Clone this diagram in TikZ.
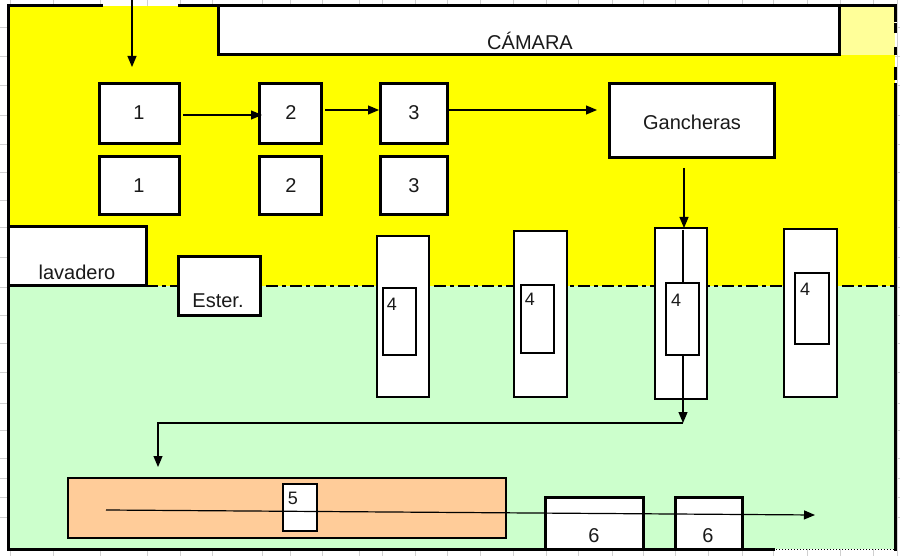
\documentclass[tikz,border=0pt]{standalone}
\usepackage{fontspec}
\setmainfont{Liberation Sans}
\usetikzlibrary{arrows.meta}
\definecolor{ylw}{HTML}{FFFF00}
\definecolor{lylw}{HTML}{FFFF99}
\definecolor{grn}{HTML}{CCFFCC}
\definecolor{org}{HTML}{FFCC99}
\definecolor{grd}{HTML}{D0D0D0}
\definecolor{txt}{HTML}{1A1A1A}
\newcommand{\mybox}[6]{\node[#2, anchor=north west, minimum width={(#5-#3)*1pt}, minimum height={(#6-#4)*1pt}] (#1) at (#3,#4) {};}
\begin{document}
\begin{tikzpicture}[x=1pt,y=-1pt,
  basebox/.style={fill=white, inner sep=0pt, outer sep=0pt, rectangle},
  thickbox/.style={basebox, draw=black, line width=3pt},
  midbox/.style={basebox, draw=black, line width=1.8pt},
  thinbox/.style={basebox, draw=black, line width=1.3pt},
  orgbox/.style={basebox, fill=org, draw=black, line width=1.8pt},
  lbl/.style={inner sep=0pt, text=txt, font=\fontsize{20}{22}\selectfont},
  slbl/.style={inner sep=0pt, text=txt, font=\fontsize{18}{20}\selectfont},
  arr/.style={line width=1.2pt, -{Triangle[length=11pt,width=9pt]}},
  wall/.style={line width=3pt, line cap=rect}
]
\useasboundingbox (0,0) rectangle (900,556);
\fill[white] (0,0) rectangle (900,556);
% spreadsheet gridlines
\foreach \gx in {10,53,100,147,180,212,262,290,322,359,382,415,447,480,513,546,578,612,643,675,708,742,773,807,840,873,897}
  \draw[grd, line width=0.8pt] (\gx,0) -- (\gx,556);
\foreach \gy in {27,56,85,115,144,172,200,227,257,287,315,343,372,403,430,458,478,497,517}
  \draw[grd, line width=0.8pt] (0,\gy) -- (900,\gy);
% zones
\fill[ylw] (8,6) rectangle (895,286);
\fill[grn] (8,286) rectangle (895,549);
\fill[lylw] (839,6) rectangle (895,55);
\draw[line width=2.5pt, dash pattern=on 12pt off 4pt on 4pt off 4pt] (146,286) -- (895,286);
% boxes
\mybox{cam}{thickbox}{218}{6}{839}{55}
\mybox{b1a}{thickbox}{99}{84}{179}{144}
\mybox{b1b}{thickbox}{99}{157}{179}{215}
\mybox{b2a}{thickbox}{259}{84}{321}{144}
\mybox{b2b}{thickbox}{259}{157}{321}{215}
\mybox{b3a}{thickbox}{380}{84}{447}{144}
\mybox{b3b}{thickbox}{380}{157}{447}{215}
\mybox{ganch}{thickbox}{609}{84}{774}{158}
\mybox{lav}{thickbox}{8}{227}{146}{286}
\mybox{ester}{thickbox}{178}{257}{260}{315}
\mybox{fa}{midbox}{377}{236}{429}{397}
\mybox{fai}{thinbox}{383}{288}{416}{355}
\mybox{fb}{midbox}{514}{231}{567}{397}
\mybox{fbi}{thinbox}{521}{285}{554}{353}
\mybox{fc}{midbox}{655}{228}{707}{399}
\coordinate (ctop) at (683,230);
\coordinate (cbot) at (683,423);
\draw[arr] (ctop) -- (cbot);
\mybox{fci}{thinbox}{666}{283}{699}{355}
\mybox{fd}{midbox}{784}{229}{837}{397}
\mybox{fdi}{thinbox}{795}{273}{829}{344}
\mybox{orange}{orgbox}{68}{478}{506}{538}
\mybox{b5}{thinbox}{283}{484}{317}{531}
\mybox{b6a}{thickbox}{545}{497}{643}{549}
\mybox{b6b}{thickbox}{675}{497}{742}{549}
% walls
\draw[wall] (101,6) -- (8,6) -- (8,549) -- (773,549);
\draw[wall] (179,6) -- (895,6) -- (895,21);
\draw[line width=3pt] (895,23) -- (895,33) (895,47) -- (895,55) (895,67) -- (895,80);
\draw[wall] (895,85) -- (895,549);
\draw[line width=1pt, dotted] (773,549) -- (895,549);
% labels
\node[lbl] (tcam) at (530,41) {CÁMARA};
\node[lbl] (t1a) at (139,113) {1};
\node[lbl] (t1b) at (139,186) {1};
\node[lbl] (t2a) at (291,113) {2};
\node[lbl] (t2b) at (291,186) {2};
\node[lbl] (t3a) at (414,113) {3};
\node[lbl] (t3b) at (414,186) {3};
\node[lbl] (tg) at (692,122) {Gancheras};
\node[lbl] (tlav) at (77,272) {lavadero};
\node[lbl] (test) at (218,301) {Ester.};
\node[slbl] (t4a) at (392,304) {4};
\node[slbl] (t4b) at (530,299) {4};
\node[slbl] (t4c) at (676,300) {4};
\node[slbl] (t4d) at (805,289) {4};
\node[slbl] (t5) at (293,498) {5};
\node[lbl] (t6a) at (594,536) {6};
\node[lbl] (t6b) at (708,536) {6};
% connectors
\coordinate (entry) at (132,0);
\coordinate (g0) at (684,168);
\coordinate (rleft) at (158,423);
\coordinate (o0) at (106,510);
\coordinate (o1) at (815,515);
\draw[arr] (entry) -- (entry |- 0,67);
\draw[arr] ([xshift=4pt]b1a.east |- 0,115) -- ([xshift=3pt]b2a.west |- 0,115);
\draw[arr] ([xshift=4pt]b2a.east |- 0,110) -- ([xshift=-1pt]b3a.west |- 0,110);
\draw[arr] ([xshift=2pt]b3a.east |- 0,110) -- ([xshift=-12pt]ganch.west |- 0,110);
\draw[arr] (g0) -- (g0 |- fc.north);
\draw[arr] (cbot) -- (rleft) -- ([yshift=-44pt]rleft);
\draw[arr] (o0) -- (o1);
\end{tikzpicture}
\end{document}
